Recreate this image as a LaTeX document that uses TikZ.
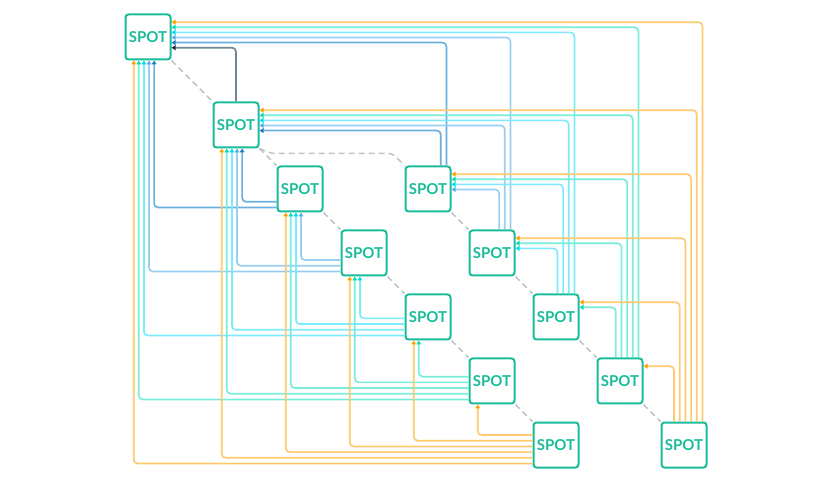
\documentclass[tikz,border=0pt]{standalone}
\usepackage{fontspec}
\setmainfont{Lato}
\usetikzlibrary{arrows.meta,calc,backgrounds}
\definecolor{spot}{HTML}{1ABC9C}
\definecolor{dashgray}{HTML}{C4C4C4}
\definecolor{line1}{HTML}{6F8894}\definecolor{tip1}{HTML}{1F2F3D}
\definecolor{line2}{HTML}{6AB0DF}\definecolor{tip2}{HTML}{1E7CCB}
\definecolor{line3}{HTML}{98CFF1}\definecolor{tip3}{HTML}{5AAEEA}
\definecolor{line4}{HTML}{7AEBFA}\definecolor{tip4}{HTML}{00DDF5}
\definecolor{line5}{HTML}{78EDD9}\definecolor{tip5}{HTML}{10DDB0}
\definecolor{line6}{HTML}{FFC970}\definecolor{tip6}{HTML}{FFA000}
\begin{document}
\begin{tikzpicture}[x=1pt,y=-1pt,
  spotbox/.style={draw=spot, line width=2pt, fill=white, rounded corners=3pt,
    minimum width=45pt, minimum height=45pt, inner sep=0pt, text=spot,
    font=\fontsize{15}{18}\selectfont\bfseries},
  edge/.style={draw=line#1, line width=1.7pt, rounded corners=4pt,
    -{Triangle[length=4pt,width=4.8pt,color=tip#1]}},
  dashline/.style={draw=dashgray, line width=1.5pt, dash pattern=on 6pt off 4pt}]
\useasboundingbox (0,0) rectangle (831,481);
% nodes
\node[spotbox, alias=R0] (L0) at (148,37) {SPOT};
\node[spotbox, alias=R1] (L1) at (236,125) {SPOT};
\node[spotbox] (L2) at (300,189) {SPOT};
\node[spotbox] (L3) at (364,253) {SPOT};
\node[spotbox] (L4) at (428,317) {SPOT};
\node[spotbox] (L5) at (492,381) {SPOT};
\node[spotbox] (L6) at (556,445) {SPOT};
\node[spotbox] (R2) at (428,189) {SPOT};
\node[spotbox] (R3) at (492,253) {SPOT};
\node[spotbox] (R4) at (556,317) {SPOT};
\node[spotbox] (R5) at (620,381) {SPOT};
\node[spotbox] (R6) at (684,445) {SPOT};
% dashed tree lines
\begin{scope}[on background layer]
\draw[dashline] (L0.south east) -- (L1.north west);
\draw[dashline] (L1.south east) -- (L2.north west);
\foreach \a/\b in {2/3,3/4,4/5,5/6}{
  \draw[dashline] (L\a.south east) -- (L\b.north west);
  \draw[dashline] (R\a.south east) -- (R\b.north west);
}
\coordinate (hp) at ($(R2.north west)+(-12,-12)$);
\draw[dashline, rounded corners=4pt] (L1.south east) -- ++(12,5) coordinate (bh) -- (bh -| hp) -- (R2.north west);
\end{scope}
% connectors
\foreach \s in {2,...,6}{
  \pgfmathtruncatemacro{\smax}{\s-1}
  \foreach \t in {0,...,\smax}{
    \draw[edge=\s] ([yshift={5+5.7*\t}]L\s.south west) -| ([xshift={9.2+5.1*(6-\s)}]L\t.south west);
    \draw[edge=\s] ([xshift={-5-5.7*\t}]R\s.north east) |- ([yshift={-8.7-5.1*(6-\s)}]R\t.north east);
  }
}
\draw[edge=1] (R1.north) |- ([yshift={-8.7-5.1*5}]R0.north east);
\end{tikzpicture}
\end{document}
